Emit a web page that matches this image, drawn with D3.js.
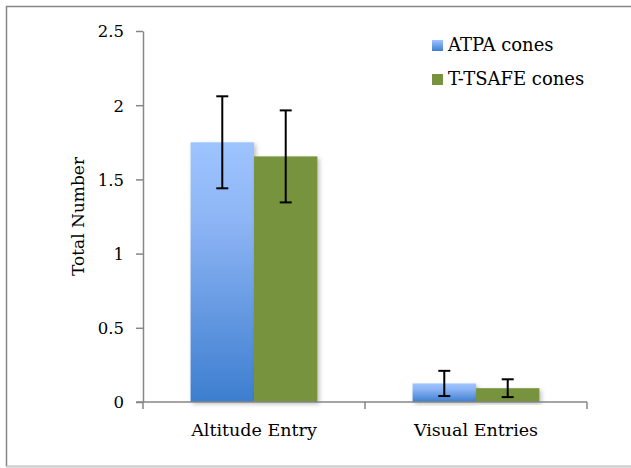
<!DOCTYPE html>
<html><head><meta charset="utf-8">
<script src="https://cdn.jsdelivr.net/npm/d3@7"></script>
<style>body{margin:0;background:#fff}svg{display:block}text{font-family:"DejaVu Serif",serif;fill:#000}</style>
</head><body>
<svg id="c" width="631" height="468"></svg>
<script>
const categories = ["Altitude Entry", "Visual Entries"];
const seriesNames = ["ATPA cones", "T-TSAFE cones"];
const atpaValues = [1.75, 0.125];
const atpaErrors = [0.31, 0.085];
const ttsafeValues = [1.655, 0.093];
const ttsafeErrors = [0.31, 0.06];
const yTicks = [0, 0.5, 1, 1.5, 2, 2.5];
const yTickLabels = ["0", "0.5", "1", "1.5", "2", "2.5"];

const svg = d3.select("#c");
const margin = {left: 143, right: 44, top: 31, bottom: 66};
const W = 631, H = 468;
const x0 = d3.scaleBand().domain(categories).range([margin.left, W - margin.right]).paddingInner(0).paddingOuter(0);
const y = d3.scaleLinear().domain([0, 2.5]).range([H - margin.bottom, margin.top]);
const x1 = d3.scaleBand().domain(seriesNames).range([0, x0.bandwidth()]).paddingInner(0).paddingOuter(0.75);

const defs = svg.append("defs");
const grad = defs.append("linearGradient").attr("id", "blueGrad").attr("x1", 0).attr("y1", 0).attr("x2", 0).attr("y2", 1);
grad.append("stop").attr("offset", "0%").attr("stop-color", "#9EC4FF");
grad.append("stop").attr("offset", "30%").attr("stop-color", "#8EB5F5");
grad.append("stop").attr("offset", "100%").attr("stop-color", "#3D7ECF");
const lgrad = defs.append("linearGradient").attr("id", "blueGradL").attr("x1", 0).attr("y1", 0).attr("x2", 0).attr("y2", 1);
lgrad.append("stop").attr("offset", "0%").attr("stop-color", "#9EC4FF");
lgrad.append("stop").attr("offset", "100%").attr("stop-color", "#3D7ECF");
const f = defs.append("filter").attr("id", "shadow").attr("x", "-20%").attr("y", "-20%").attr("width", "140%").attr("height", "140%");
f.append("feDropShadow").attr("dx", 2).attr("dy", 2).attr("stdDeviation", 2).attr("flood-color", "#000").attr("flood-opacity", 0.25);

// outer border
svg.append("rect").attr("x", 6.5).attr("y", 6.5).attr("width", 640).attr("height", 460)
  .attr("fill", "none").attr("stroke", "#868686").attr("stroke-width", 1.5);
svg.append("line").attr("x1", 6).attr("x2", 631).attr("y1", 466.5).attr("y2", 466.5)
  .attr("stroke", "#d0d0d0").attr("stroke-width", 1.5);

const series = [
  {name: seriesNames[0], values: atpaValues, errors: atpaErrors, fill: "url(#blueGrad)"},
  {name: seriesNames[1], values: ttsafeValues, errors: ttsafeErrors, fill: "#77933C"}
];

// bars
series.forEach(s => {
  svg.append("g").selectAll("rect").data(categories).join("rect")
    .attr("x", c => x0(c) + x1(s.name))
    .attr("width", x1.bandwidth())
    .attr("y", (c, i) => y(s.values[i]))
    .attr("height", (c, i) => y(0) - y(s.values[i]))
    .attr("fill", s.fill)
    .attr("filter", "url(#shadow)");
});

// axes
const yAxis = svg.append("g").attr("transform", `translate(${margin.left},0)`)
  .call(d3.axisLeft(y).tickValues(yTicks).tickFormat((d, i) => yTickLabels[i]).tickSize(7).tickSizeOuter(0));
yAxis.attr("font-family", null).attr("font-size", null);
yAxis.select(".domain").attr("stroke", "#868686").attr("stroke-width", 1.5);
yAxis.selectAll(".tick line").attr("stroke", "#868686").attr("stroke-width", 1.5);
yAxis.selectAll(".tick text").style("font-size", "16.5px").attr("x", -19).attr("dy", "0.36em").attr("fill", "#000");

const xAxisG = svg.append("g").attr("transform", `translate(0,${y(0)})`);
xAxisG.append("line").attr("x1", margin.left - 7).attr("x2", W - margin.right).attr("y1", 0).attr("y2", 0)
  .attr("stroke", "#868686").attr("stroke-width", 1.5);
const xTickPos = [margin.left, ...categories.map(c => x0(c) + x0.bandwidth())];
xAxisG.selectAll(".xt").data(xTickPos).join("line")
  .attr("x1", d => d).attr("x2", d => d).attr("y1", 0).attr("y2", 7)
  .attr("stroke", "#868686").attr("stroke-width", 1.5);
xAxisG.selectAll(".xl").data(categories).join("text")
  .attr("x", c => x0(c) + x0.bandwidth() / 2).attr("y", 34)
  .attr("text-anchor", "middle").style("font-size", "17.5px").text(c => c);

// error bars
series.forEach(s => {
  const g = svg.append("g");
  categories.forEach((c, i) => {
    const cx = x0(c) + x1(s.name) + x1.bandwidth() / 2;
    const hi = y(s.values[i] + s.errors[i]), lo = y(s.values[i] - s.errors[i]);
    g.append("line").attr("x1", cx).attr("x2", cx).attr("y1", hi).attr("y2", lo).attr("stroke", "#000").attr("stroke-width", 2);
    [hi, lo].forEach(yy => g.append("line").attr("x1", cx - 6).attr("x2", cx + 6).attr("y1", yy).attr("y2", yy).attr("stroke", "#000").attr("stroke-width", 2));
  });
});

// y title
svg.append("text").attr("transform", `translate(84,${(y(0) + y(2.5)) / 2}) rotate(-90)`)
  .attr("text-anchor", "middle").style("font-size", "17px").text("Total Number");

// legend
const leg = svg.append("g").attr("transform", "translate(432,34)");
series.forEach((s, i) => {
  const row = leg.append("g").attr("transform", `translate(0,${i * 34})`);
  row.append("rect").attr("x", 0).attr("y", 6).attr("width", 11).attr("height", 11)
    .attr("fill", i === 0 ? "url(#blueGradL)" : s.fill);
  row.append("text").attr("x", 16).attr("y", 17).style("font-size", "18px").text(s.name);
});
</script>
</body></html>
